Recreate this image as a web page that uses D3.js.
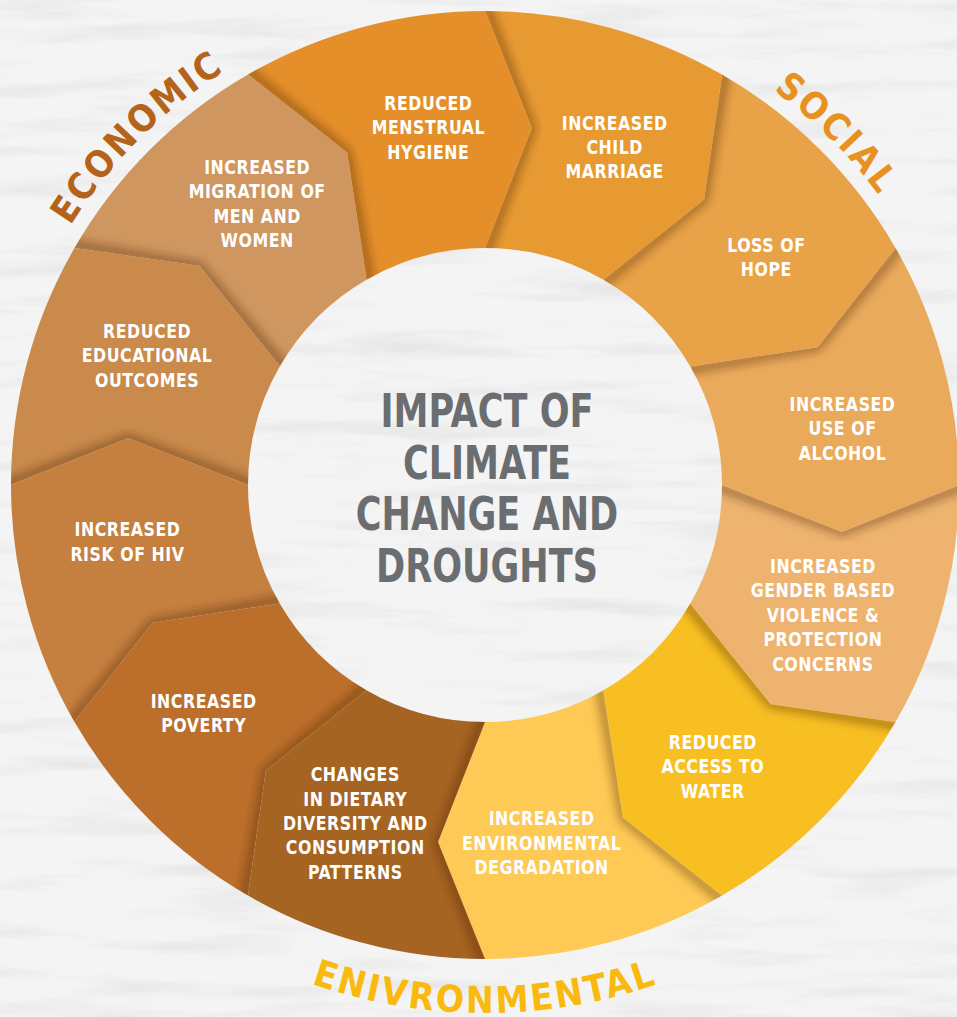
<!DOCTYPE html>
<html><head><meta charset="utf-8">
<script src="https://cdn.jsdelivr.net/npm/d3@7"></script>
<style>html,body{margin:0;padding:0;background:#f3f2f2;overflow:hidden}</style>
</head><body><svg id="chart" width="957" height="1017"></svg>
<script>
// ---- data ----
const impactLabels = [
  ["INCREASED", "CHILD", "MARRIAGE"],
  ["LOSS OF", "HOPE"],
  ["INCREASED", "USE OF", "ALCOHOL"],
  ["INCREASED", "GENDER BASED", "VIOLENCE &", "PROTECTION", "CONCERNS"],
  ["REDUCED", "ACCESS TO", "WATER"],
  ["INCREASED", "ENVIRONMENTAL", "DEGRADATION"],
  ["CHANGES", "IN DIETARY", "DIVERSITY AND", "CONSUMPTION", "PATTERNS"],
  ["INCREASED", "POVERTY"],
  ["INCREASED", "RISK OF HIV"],
  ["REDUCED", "EDUCATIONAL", "OUTCOMES"],
  ["INCREASED", "MIGRATION OF", "MEN AND", "WOMEN"],
  ["REDUCED", "MENSTRUAL", "HYGIENE"]
];
const impactColors = ["#E89A32", "#E8A247", "#EAAA5C", "#EDB36F", "#F8BF23", "#FEC954",
                      "#A66422", "#BB6F2A", "#C5803F", "#C98A4C", "#CF965F", "#E48F29"];
const groupNames = ["SOCIAL", "ENIVRONMENTAL", "ECONOMIC"];
const groupColors = ["#E8911F", "#F9B90E", "#B5621B"];
const groupCenters = [1.5, 6, 10.5];   // in segment units
const titleLines = ["IMPACT OF", "CLIMATE", "CHANGE AND", "DROUGHTS"];

// ---- layout ----
const W = 957, H = 1017;
const cx = 485, cy = 485, rIn = 237, rOut = 474, rTip = 360;
const FONT = "'Liberation Sans Narrow','DejaVu Sans Condensed',sans-serif";

const svg = d3.select("#chart");
const defs = svg.append("defs");

const angle = d3.scaleLinear().domain([0, impactLabels.length]).range([0, 2 * Math.PI]);
const step = angle(1) - angle(0);
const tipOff = step / 4;
const pt = (r, a) => [cx + r * Math.sin(a), cy - r * Math.cos(a)];

// background stone texture
const tex = defs.append("filter").attr("id", "stone")
  .attr("x", 0).attr("y", 0).attr("width", "100%").attr("height", "100%");
tex.append("feTurbulence").attr("type", "fractalNoise")
  .attr("baseFrequency", "0.006 0.05").attr("numOctaves", 4).attr("seed", 11);
tex.append("feColorMatrix").attr("type", "matrix")
  .attr("values", "0 0 0 0 0.5  0 0 0 0 0.5  0 0 0 0 0.51  2.4 0 0 0 -1.2");
svg.append("rect").attr("width", W).attr("height", H).attr("fill", "#f5f4f4");
svg.append("rect").attr("width", W).attr("height", H).attr("filter", "url(#stone)").attr("opacity", 0.25);

const blur = defs.append("filter").attr("id", "blur")
  .attr("x", "-20%").attr("y", "-20%").attr("width", "140%").attr("height", "140%");
blur.append("feGaussianBlur").attr("stdDeviation", 4);

function segPath(i) {
  const a0 = angle(i), a1 = angle(i + 1);
  const p = d3.path();
  p.moveTo(...pt(rOut, a0));
  p.arc(cx, cy, rOut, a0 - Math.PI / 2, a1 - Math.PI / 2, false);
  p.lineTo(...pt(rTip, a1 + tipOff));
  p.lineTo(...pt(rIn, a1));
  p.arc(cx, cy, rIn, a1 - Math.PI / 2, a0 - Math.PI / 2, true);
  p.lineTo(...pt(rTip, a0 + tipOff));
  p.closePath();
  return p.toString();
}
function edgePath(i) {
  const a0 = angle(i);
  const p = d3.path();
  p.moveTo(...pt(rOut + 10, a0));
  p.lineTo(...pt(rTip, a0 + tipOff));
  p.lineTo(...pt(rIn - 10, a0));
  return p.toString();
}

const idx = d3.range(impactLabels.length);
defs.selectAll("clipPath.seg").data(idx).join("clipPath")
  .attr("class", "seg").attr("id", i => "seg" + i)
  .append("path").attr("d", segPath);

svg.append("g").selectAll("path.segment").data(idx).join("path")
  .attr("class", "segment").attr("d", segPath)
  .attr("fill", i => impactColors[i]);

// shadows cast by previous segment onto the notched edge
svg.append("g").selectAll("g").data(idx).join("g")
  .attr("clip-path", i => `url(#seg${i})`)
  .append("path").attr("d", edgePath)
  .attr("fill", "none").attr("stroke", "#4a2600").attr("stroke-opacity", 0.4)
  .attr("stroke-width", 9).attr("stroke-linejoin", "round")
  .attr("filter", "url(#blur)");

// segment labels
const lineH = 24.4, capH = 14;
const labG = svg.append("g").attr("font-family", FONT).attr("font-weight", "bold")
  .attr("font-size", 19.5).attr("fill", "#ffffff").attr("text-anchor", "middle")
  .attr("letter-spacing", 0.6);
idx.forEach(i => {
  const [x, y] = pt(362, angle(i) + step * 0.7);
  const lines = impactLabels[i];
  const y0 = y - (lines.length - 1) * lineH / 2 + capH / 2;
  const t = labG.append("text").attr("transform", `translate(${x},${y0}) scale(0.9,1)`);
  lines.forEach((ln, k) => t.append("tspan").attr("x", 0).attr("y", k * lineH).text(ln));
});

// centre title
const tG = svg.append("g").attr("font-family", FONT).attr("font-weight", "bold")
  .attr("font-size", 47).attr("fill", "#6B6E71").attr("text-anchor", "middle");
titleLines.forEach((ln, k) => tG.append("text")
  .attr("transform", `translate(487,${427 + k * 51.7}) scale(0.83,1)`).text(ln));

// curved group labels
groupNames.forEach((g, k) => {
  const c = angle(groupCenters[k]);
  const bottom = Math.cos(c) < -0.5;
  const r = bottom ? 528 : 489;
  const p = d3.path();
  const span = Math.PI / 3;
  if (!bottom) {
    p.moveTo(...pt(r, c - span));
    p.arc(cx, cy, r, c - span - Math.PI / 2, c + span - Math.PI / 2, false);
  } else {
    p.moveTo(...pt(r, c + span));
    p.arc(cx, cy, r, c + span - Math.PI / 2, c - span - Math.PI / 2, true);
  }
  defs.append("path").attr("id", "gp" + k).attr("d", p.toString());
  svg.append("text").attr("font-family", FONT).attr("font-weight", "bold")
    .attr("font-size", 37).attr("fill", groupColors[k]).attr("letter-spacing", 2.5)
    .append("textPath").attr("href", "#gp" + k).attr("startOffset", "50%")
    .attr("text-anchor", "middle").text(g);
});
</script></body></html>
